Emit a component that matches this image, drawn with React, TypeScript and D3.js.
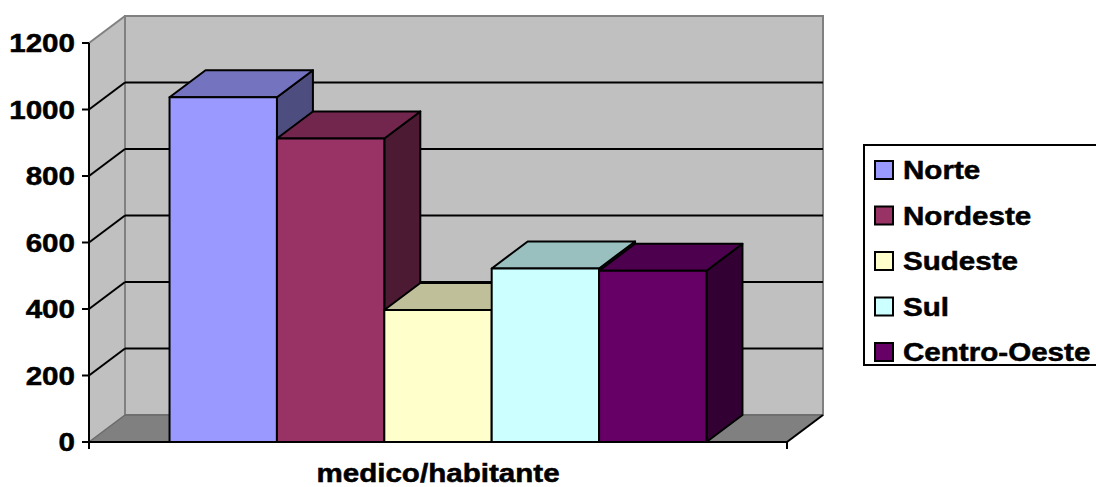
import * as d3 from 'd3';
import React from 'react';

const category = 'medico/habitante';
const regions = ['Norte', 'Nordeste', 'Sudeste', 'Sul', 'Centro-Oeste'];
const values = [1037, 913, 397, 522, 515];
const colors = ['#9999FF', '#993366', '#FFFFCC', '#CCFFFF', '#660066'];
const yTicks = [0, 200, 400, 600, 800, 1000, 1200];

const W = 1096;
const H = 487;
const FONT = '"Liberation Sans", Arial, sans-serif';
// depth offset of the 3D box
const DX = 36;
const DY = -27;

// stretched bold text (the original chart renders text wider than normal Arial)
const Label: React.FC<{ x: number; y: number; anchor?: string; size?: number; children: React.ReactNode }> = ({
  x,
  y,
  anchor = 'start',
  size = 25.5,
  children,
}) => (
  <text
    transform={`translate(${x},${y}) scale(1.16,1)`}
    textAnchor={anchor}
    fontFamily={FONT}
    fontWeight="bold"
    fontSize={size}
    fill="#000"
    stroke="#000"
    strokeWidth={0.5}
  >
    {children}
  </text>
);

const shade = (c: string, k: number) => {
  const rgb = d3.rgb(c);
  return d3.rgb(rgb.r * k, rgb.g * k, rgb.b * k).formatHex();
};

export default function App() {
  const y = d3.scaleLinear().domain([0, 1200]).range([442, 43]);
  const x0 = d3.scaleBand().domain([category]).range([89, 787]).paddingOuter(0.15).paddingInner(0);
  const x1 = d3
    .scaleBand()
    .domain(regions)
    .range([x0(category)!, x0(category)! + x0.bandwidth()]);

  const left = 89;
  const right = 787;
  const bottom = y(0);
  const top = y(1200);

  const pts = (p: [number, number][]) => p.map(d => d.join(',')).join(' ');

  return (
    <svg width={W} height={H} style={{ position: 'absolute', left: 0, top: 0, background: '#fff' }}>
      {/* left side wall */}
      <polygon
        points={pts([
          [left, bottom],
          [left, top],
          [left + DX, top + DY],
          [left + DX, bottom + DY],
        ])}
        fill="#C0C0C0"
      />
      {/* back wall */}
      <rect
        x={left + DX}
        y={top + DY}
        width={right - left}
        height={bottom - top}
        fill="#C0C0C0"
        stroke="#808080"
        strokeWidth={2}
      />
      {/* floor */}
      <polygon
        points={pts([
          [left, bottom],
          [right, bottom],
          [right + DX, bottom + DY],
          [left + DX, bottom + DY],
        ])}
        fill="#808080"
      />
      <line x1={left} y1={bottom} x2={left + DX} y2={bottom + DY} stroke="#6a6a6a" strokeWidth={1.5} />
      <line x1={left + DX} y1={bottom + DY} x2={right + DX} y2={bottom + DY} stroke="#6a6a6a" strokeWidth={1.5} />
      <line x1={right} y1={bottom} x2={right + DX} y2={bottom + DY} stroke="#000" strokeWidth={2} />
      <line x1={left} y1={top} x2={left + DX} y2={top + DY} stroke="#808080" strokeWidth={2} />

      {/* gridlines */}
      {yTicks
        .filter(t => t > 0 && t < 1200)
        .map(t => (
          <g key={t} stroke="#000" strokeWidth={2}>
            <line x1={left} y1={y(t)} x2={left + DX} y2={y(t) + DY} />
            <line x1={left + DX} y1={y(t) + DY} x2={right + DX} y2={y(t) + DY} />
          </g>
        ))}

      {/* bars */}
      {regions.map((r, i) => {
        const bx = x1(r)!;
        const bw = x1.bandwidth();
        const by = y(values[i]);
        return (
          <g key={r} stroke="#000" strokeWidth={2} strokeLinejoin="round">
            <polygon
              points={pts([
                [bx + bw, by],
                [bx + bw + DX, by + DY],
                [bx + bw + DX, bottom + DY],
                [bx + bw, bottom],
              ])}
              fill={shade(colors[i], 0.5)}
            />
            <polygon
              points={pts([
                [bx, by],
                [bx + DX, by + DY],
                [bx + bw + DX, by + DY],
                [bx + bw, by],
              ])}
              fill={shade(colors[i], 0.75)}
            />
            <rect x={bx} y={by} width={bw} height={bottom - by} fill={colors[i]} />
          </g>
        );
      })}

      {/* axes */}
      <line x1={left} y1={top} x2={left} y2={bottom} stroke="#000" strokeWidth={2} />
      <line x1={left} y1={bottom} x2={right} y2={bottom} stroke="#000" strokeWidth={2} />
      <line x1={left} y1={bottom} x2={left} y2={bottom + 7} stroke="#000" strokeWidth={2} />
      <line x1={right} y1={bottom} x2={right} y2={bottom + 7} stroke="#000" strokeWidth={2} />
      {yTicks.map(t => (
        <g key={t}>
          <line x1={left - 7} y1={y(t)} x2={left} y2={y(t)} stroke="#000" strokeWidth={2} />
          <Label x={75} y={y(t) + 9} anchor="end">
            {t}
          </Label>
        </g>
      ))}
      <Label x={x0(category)! + x0.bandwidth() / 2} y={482} anchor="middle">
        {category}
      </Label>

      {/* legend */}
      <rect x={864} y={145} width={260} height={220} fill="#fff" stroke="#000" strokeWidth={2} />
      {regions.map((r, i) => {
        const cy = 170 + i * 45.5;
        return (
          <g key={r}>
            <rect x={875} y={cy - 9} width={18} height={18} fill={colors[i]} stroke="#000" strokeWidth={2} />
            <Label x={903} y={cy + 9}>
              {r}
            </Label>
          </g>
        );
      })}
    </svg>
  );
}
